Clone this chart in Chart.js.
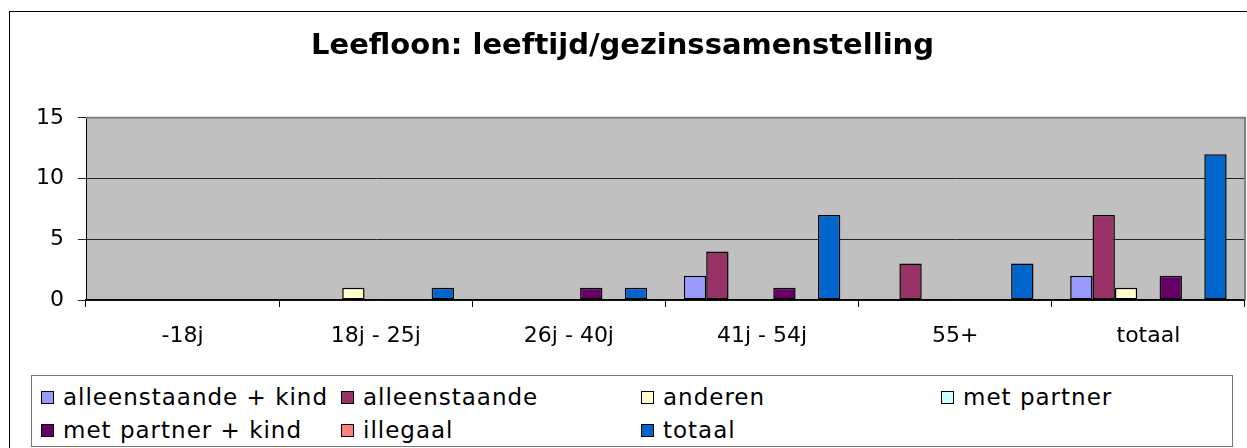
<!DOCTYPE html>
<html>
<head>
<meta charset="utf-8">
<script src="https://cdn.jsdelivr.net/npm/chart.js@4"></script>
<style>
  html, body { margin: 0; padding: 0; background: #fff; overflow: hidden; }
  #wrap { position: relative; width: 1247px; height: 448px; }
  #frame { position: absolute; left: 9px; top: 11px; width: 1300px; height: 500px; border: 1px solid #000; box-sizing: border-box; }
  #salesChart { position: absolute; left: 0; top: 0; }
  #legend {
    position: absolute; left: 31px; top: 375px; width: 1202px; height: 72px;
    border: 1px solid #777; box-sizing: border-box; background: #fff;
    font-family: "DejaVu Sans", Verdana, sans-serif; font-size: 23px; letter-spacing: 1px; color: #000;
  }
  .item { position: absolute; display: flex; align-items: center; height: 30px; white-space: nowrap; }
  .swatch { width: 11px; height: 11px; border: 1.5px solid #000; margin-right: 9px; }
</style>
</head>
<body>
<div id="wrap">
  <div id="frame"></div>
  <canvas id="salesChart" width="1247" height="448"></canvas>
  <div id="legend"></div>
</div>
<script>
const categories = ['-18j', '18j - 25j', '26j - 40j', '41j - 54j', '55+', 'totaal'];
const seriesNames = ['alleenstaande + kind', 'alleenstaande', 'anderen', 'met partner', 'met partner + kind', 'illegaal', 'totaal'];
const seriesColors = ['#9999FF', '#993366', '#FFFFCC', '#CCFFFF', '#660066', '#FF8080', '#0066CC'];

const alleenstaandeKind = [0, 0, 0, 2, 0, 2];
const alleenstaande = [0, 0, 0, 4, 3, 7];
const anderen = [0, 1, 0, 0, 0, 1];
const metPartner = [0, 0, 0, 0, 0, 0];
const metPartnerKind = [0, 0, 1, 1, 0, 2];
const illegaal = [0, 0, 0, 0, 0, 0];
const totaal = [0, 1, 1, 7, 3, 12];

const yTicks = [0, 5, 10, 15];

const seriesValues = [alleenstaandeKind, alleenstaande, anderen, metPartner, metPartnerKind, illegaal, totaal];

// legend: 4 columns, 2 rows
const legend = document.getElementById('legend');
seriesNames.forEach((name, i) => {
  const item = document.createElement('div');
  item.className = 'item';
  item.style.left = (9 + (i % 4) * 300) + 'px';
  item.style.top = (i < 4 ? 6 : 39) + 'px';
  item.innerHTML = `<span class="swatch" style="background:${seriesColors[i]}"></span><span>${name}</span>`;
  legend.appendChild(item);
});

const plotArea = {
  id: 'plotArea',
  beforeDraw(chart) {
    const { ctx, chartArea: a } = chart;
    ctx.save();
    ctx.fillStyle = '#C0C0C0';
    ctx.fillRect(a.left, a.top, a.right - a.left, a.bottom - a.top);
    ctx.restore();
  },
  afterDraw(chart) {
    const { ctx, chartArea: a } = chart;
    ctx.save();
    ctx.strokeStyle = '#808080';
    ctx.lineWidth = 2;
    ctx.beginPath();
    ctx.moveTo(a.left, a.top);
    ctx.lineTo(a.right, a.top);
    ctx.lineTo(a.right, a.bottom);
    ctx.stroke();
    ctx.restore();
  }
};

const ctx = document.getElementById('salesChart').getContext('2d');
new Chart(ctx, {
  type: 'bar',
  data: {
    labels: categories,
    datasets: seriesNames.map((name, i) => ({
      label: name,
      data: seriesValues[i],
      backgroundColor: seriesColors[i],
      borderColor: '#000',
      borderWidth: 1.5,
      borderSkipped: false,
      categoryPercentage: 0.81,
      barPercentage: 1.0
    }))
  },
  options: {
    responsive: false,
    animation: false,
    layout: { padding: { left: 0, right: 2, top: 0, bottom: 100 } },
    plugins: {
      legend: { display: false },
      tooltip: { enabled: false },
      title: {
        display: true,
        text: 'Leefloon: leeftijd/gezinssamenstelling',
        color: '#000',
        font: { family: '"DejaVu Sans", Verdana, sans-serif', size: 29, weight: 'bold' },
        padding: { top: 29, bottom: 54 }
      }
    },
    scales: {
      x: {
        grid: { drawOnChartArea: false, color: '#000', tickLength: 7 },
        border: { color: '#000', width: 1.5 },
        ticks: { color: '#000', padding: 16, font: { family: '"DejaVu Sans", Verdana, sans-serif', size: 22 } },
        afterFit: s => { s.height = 48; }
      },
      y: {
        min: 0,
        max: 15,
        afterBuildTicks: s => { s.ticks = yTicks.map(v => ({ value: v })); },
        grid: { color: '#222', tickLength: 8 },
        border: { color: '#000', width: 1 },
        ticks: { color: '#000', padding: 14, font: { family: '"DejaVu Sans", Verdana, sans-serif', size: 22 } },
        afterFit: s => { s.width = 86; }
      }
    }
  },
  plugins: [plotArea]
});
</script>
</body>
</html>
